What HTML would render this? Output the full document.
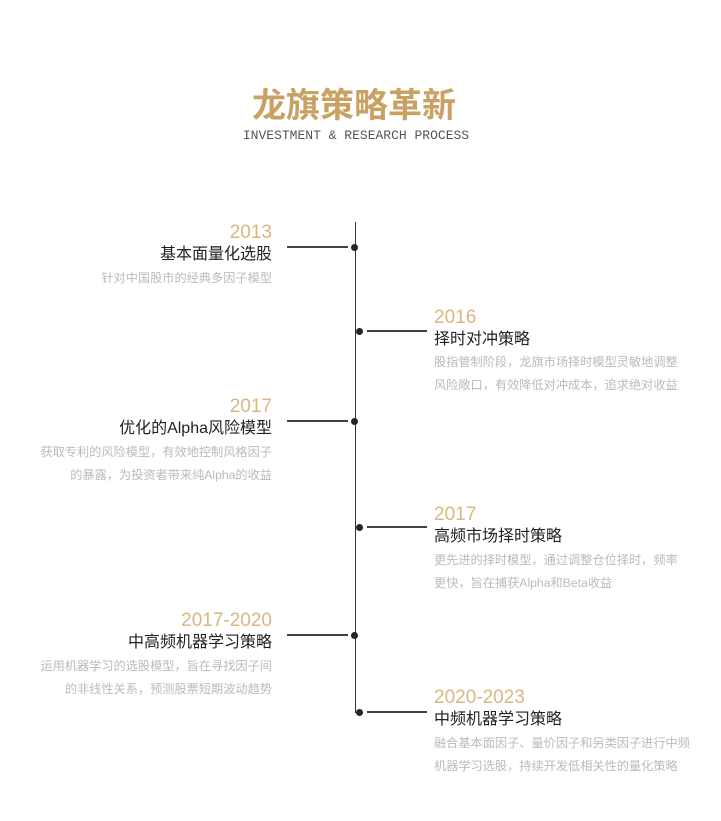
<!DOCTYPE html>
<html><head><meta charset="utf-8"><style>
body{margin:0;width:721px;height:821px;background:#fff;position:relative;overflow:hidden;font-family:"Liberation Sans","Noto Sans CJK SC",sans-serif}
.a{position:absolute;white-space:nowrap}
.y{font-size:19px;color:#d9b77f;line-height:22px}
.t{font-size:16px;color:#222;line-height:20px}
.d{font-size:12.2px;color:#bbb;line-height:22.5px}
.L{right:449px;text-align:right}
.R{left:434px}
.h{position:absolute;height:2px;background:#4a3f36}
.dot{position:absolute;width:7px;height:7px;border-radius:50%;background:#2a241f}
</style></head><body>
<div class="a" style="left:0;width:708px;text-align:center;top:82px;font-size:34px;font-weight:bold;color:#c9a263;font-family:'Noto Sans CJK SC',sans-serif;line-height:42px">龙旗策略革新</div>
<div class="a" style="left:0;width:712px;text-align:center;top:128px;font-size:13px;color:#555;font-family:'Liberation Mono',monospace;line-height:16px">INVESTMENT &amp; RESEARCH PROCESS</div>
<div style="position:absolute;left:355px;top:222px;width:1px;height:491px;background:#333"></div>
<div style="position:absolute;left:355px;top:712px;width:6px;height:1px;background:#333"></div>

<div class="h" style="left:287px;width:61px;top:246px"></div><div class="dot" style="left:351px;top:244px"></div>
<div class="a y L" style="top:222px">2013</div>
<div class="a t L" style="top:245px">基本面量化选股</div>
<div class="a d L" style="top:267px">针对中国股市的经典多因子模型</div>

<div class="h" style="left:367px;width:60px;top:330px"></div><div class="dot" style="left:356px;top:328px"></div>
<div class="a y R" style="top:307px">2016</div>
<div class="a t R" style="top:330px">择时对冲策略</div>
<div class="a d R" style="top:351px">股指管制阶段，龙旗市场择时模型灵敏地调整<br>风险敞口，有效降低对冲成本，追求绝对收益</div>

<div class="h" style="left:287px;width:61px;top:420px"></div><div class="dot" style="left:351px;top:418px"></div>
<div class="a y L" style="top:396px">2017</div>
<div class="a t L" style="top:419px">优化的Alpha风险模型</div>
<div class="a d L" style="top:441px">获取专利的风险模型，有效地控制风格因子<br>的暴露，为投资者带来纯Alpha的收益</div>

<div class="h" style="left:367px;width:60px;top:526px"></div><div class="dot" style="left:356px;top:524px"></div>
<div class="a y R" style="top:504px">2017</div>
<div class="a t R" style="top:527px">高频市场择时策略</div>
<div class="a d R" style="top:549px">更先进的择时模型，通过调整仓位择时，频率<br>更快，旨在捕获Alpha和Beta收益</div>

<div class="h" style="left:287px;width:61px;top:634px"></div><div class="dot" style="left:351px;top:632px"></div>
<div class="a y L" style="top:610px">2017-2020</div>
<div class="a t L" style="top:633px">中高频机器学习策略</div>
<div class="a d L" style="top:655px">运用机器学习的选股模型，旨在寻找因子间<br>的非线性关系，预测股票短期波动趋势</div>

<div class="h" style="left:367px;width:60px;top:711px"></div><div class="dot" style="left:356px;top:709px"></div>
<div class="a y R" style="top:687px">2020-2023</div>
<div class="a t R" style="top:710px">中频机器学习策略</div>
<div class="a d R" style="top:732px">融合基本面因子、量价因子和另类因子进行中频<br>机器学习选股，持续开发低相关性的量化策略</div>
</body></html>
